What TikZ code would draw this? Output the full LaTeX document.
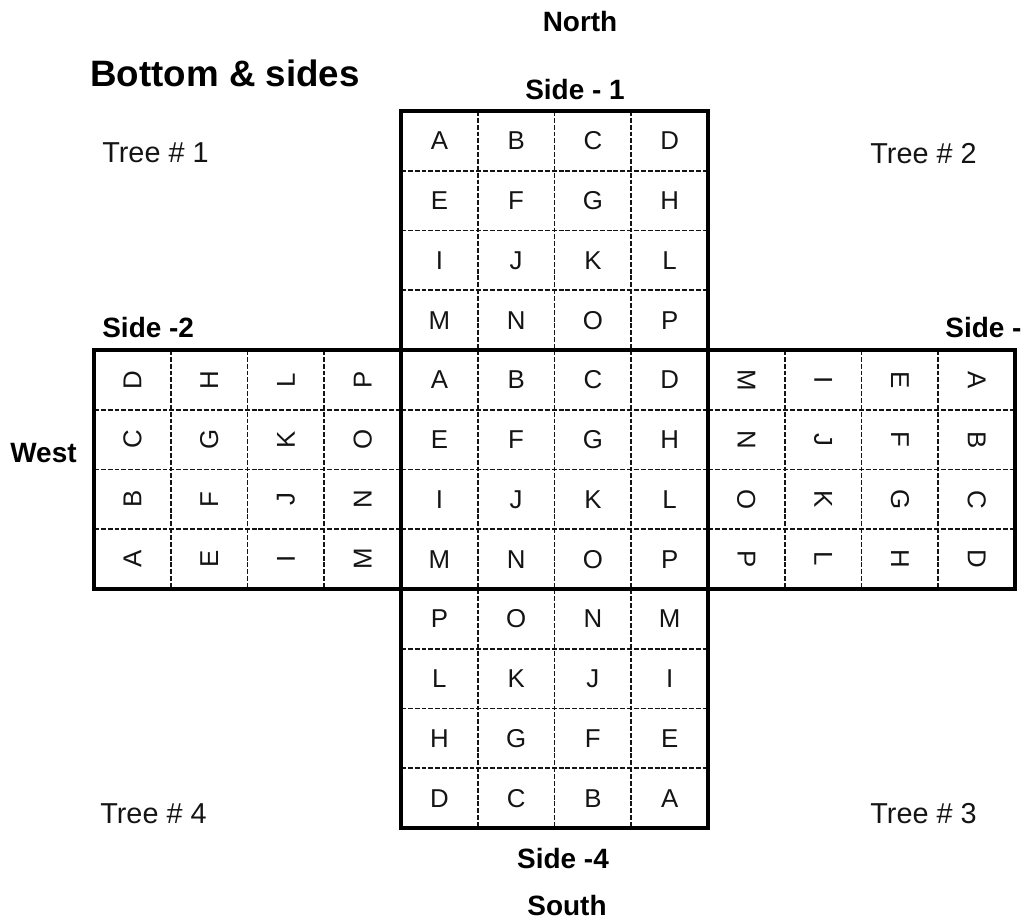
\documentclass[tikz,border=0pt]{standalone}
\usepackage{fontspec}
\setmainfont{Liberation Sans}
\usetikzlibrary{positioning}
\definecolor{inkC}{RGB}{20,20,20}

\begin{document}
\begin{tikzpicture}[
  cell/.style={inner sep=0pt, text=inkC, font=\fontsize{14.7}{16}\selectfont},
  sidelbl/.style={inner sep=0pt, anchor=base, font=\fontsize{15.9}{18}\selectfont\bfseries},
  treelbl/.style={inner sep=0pt, anchor=base west, text=inkC, font=\fontsize{16.4}{18}\selectfont},
  innerline/.style={inkC, line width=1.1pt, dash pattern=on 2.8pt off 1.1pt},
  outerline/.style={line width=2.4pt}
]
\useasboundingbox (0,0) rectangle (20.42,18.46);
\clip (0,0) rectangle (20.42,18.46);

% Headings
\node[sidelbl] (north) at (11.6,17.82) {North};
\node[sidelbl] (south) at (11.34,0.16) {South};
\node[sidelbl, anchor=base west] (west) at (0.2,9.22) {West};
\node[inner sep=0pt, anchor=base west, font=\fontsize{20.9}{24}\selectfont\bfseries] (title) at (1.8,16.72) {Bottom \& sides};

% Side labels
\node[sidelbl] (side1) at (11.5,16.46) {Side - 1};
\node[sidelbl, anchor=base west] (side2) at (2.04,11.72) {Side -2};
\node[sidelbl, anchor=base west] (side3) at (18.9,11.72) {Side -3};
\node[sidelbl] (side4) at (11.26,1.1) {Side -4};

% Trees
\node[treelbl] (tree1) at (2.04,15.22) {Tree \# 1};
\node[treelbl] (tree2) at (17.4,15.2) {Tree \# 2};
\node[treelbl] (tree3) at (17.4,2.0) {Tree \# 3};
\node[treelbl] (tree4) at (2.0,2.0) {Tree \# 4};

% Cross of five 4x4 blocks
\begin{scope}[shift={(1.88,16.24)}, x=1.535cm, y=-1.195cm]
  \foreach \bx/\by in {4/0, 0/4, 4/4, 8/4, 4/8} {
    \foreach \k in {1,2,3} {
      \draw[innerline] (\bx+\k,\by) -- (\bx+\k,\by+4);
      \draw[innerline] (\bx,\by+\k) -- (\bx+4,\by+\k);
    }
  }
  \foreach \bx/\by in {4/0, 0/4, 4/4, 8/4, 4/8}
    \draw[outerline] (\bx,\by) rectangle (\bx+4,\by+4);

  \foreach \l [count=\n from 0] in {A,B,C,D,E,F,G,H,I,J,K,L,M,N,O,P} {
    \pgfmathtruncatemacro{\q}{\n/4}
    \pgfmathtruncatemacro{\m}{mod(\n,4)}
    \node[cell] (top-\l) at (4+\m+0.5, \q+0.5) {\l};
    \node[cell] (mid-\l) at (4+\m+0.5, 4+\q+0.5) {\l};
    \node[cell, rotate=90] (left-\l) at (\q+0.5, 7-\m+0.5) {\l};
    \node[cell, rotate=-90] (right-\l) at (11-\q+0.5, 4+\m+0.5) {\l};
    \node[cell] (bot-\l) at (7-\m+0.5, 11-\q+0.5) {\l};
  }
\end{scope}
\end{tikzpicture}
\end{document}
